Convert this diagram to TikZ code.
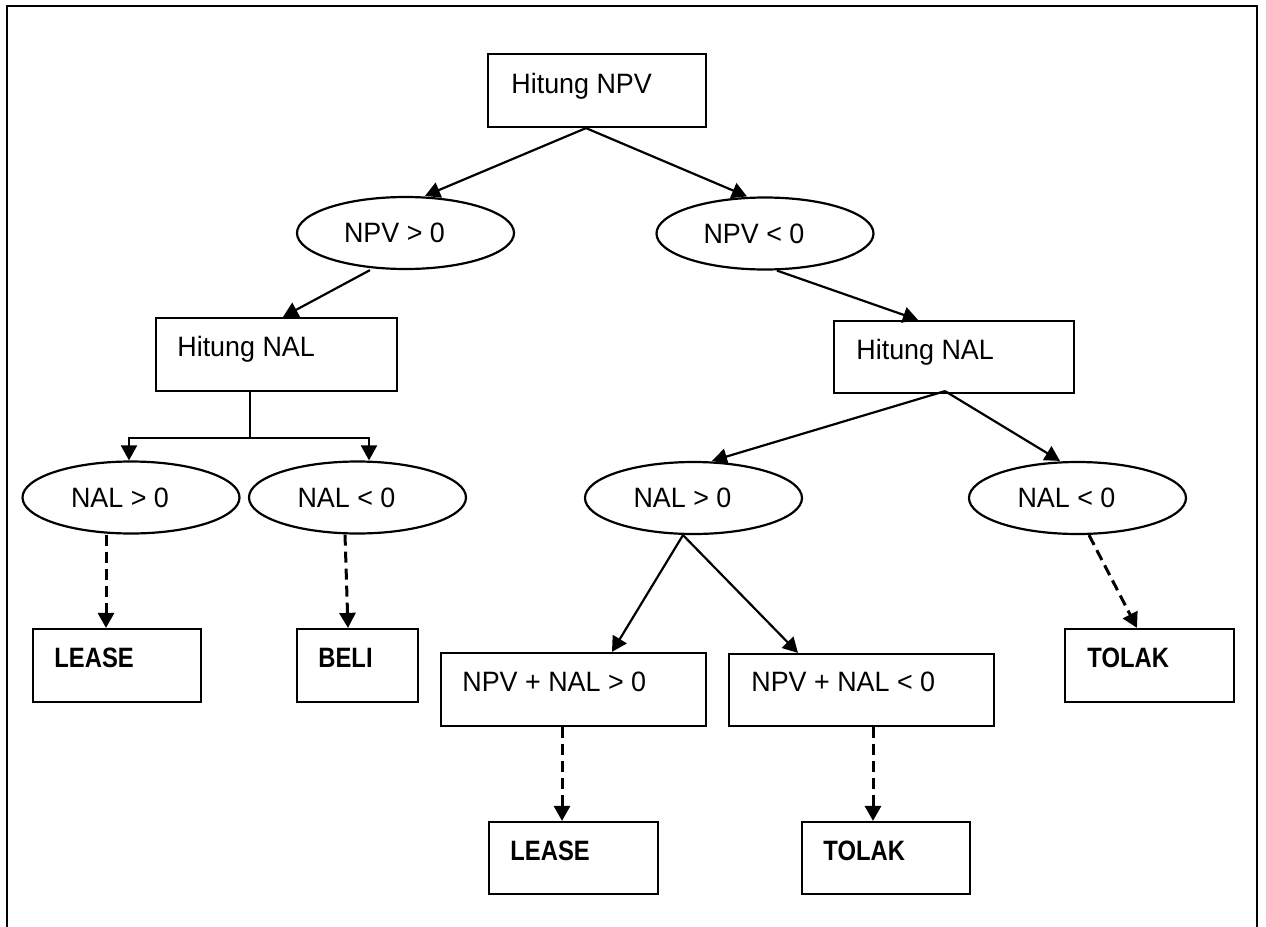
\documentclass[tikz,border=0pt]{standalone}
\usepackage{fontspec}
\setmainfont{Liberation Sans}[FakeStretch=0.96]
\newfontfamily\bcond{Liberation Sans}[FakeStretch=0.85]
\usetikzlibrary{arrows.meta,shapes.geometric}
\tikzset{
  boxst/.style={draw, line width=1.1pt, rectangle, inner sep=0pt},
  ellst/.style={draw, line width=1.1pt, ellipse, inner sep=0pt, minimum width=108.5pt, minimum height=36pt},
  txt/.style={inner sep=0pt, font=\fontsize{14}{16}\selectfont},
  btxt/.style={inner sep=0pt, font=\bcond\bfseries\fontsize{14}{16}\selectfont},
  arr/.style={line width=1.1pt, -{Triangle[length=7.5pt,width=8pt]}},
  darr/.style={arr, line width=1.5pt, dash pattern=on 5.5pt off 3pt},
}
\begin{document}
\begin{tikzpicture}[x=0.5pt,y=-0.5pt]
\useasboundingbox (0,0) rectangle (1266,927);
% outer frame (open at bottom)
\draw[line width=1.1pt] (7,927) -- (7,6) -- (1257,6) -- (1257,927);

% boxes
\node[boxst, minimum width=109pt, minimum height=36.5pt] (npv) at (597,90.5) {};
\node[txt, anchor=base west] (npvT) at (511,93) {Hitung NPV};

\node[boxst, minimum width=120.5pt, minimum height=36.5pt] (hl) at (276.5,354.5) {};
\node[txt, anchor=base west] (hlT) at (177,356) {Hitung NAL};

\node[boxst, minimum width=120pt, minimum height=36pt] (hr) at (954,357) {};
\node[txt, anchor=base west] (hrT) at (856,359) {Hitung NAL};

\node[boxst, minimum width=84pt, minimum height=36.5pt] (lease1) at (117,665.5) {};
\node[btxt, anchor=base west] (lease1T) at (54,667) {LEASE};

\node[boxst, minimum width=60.5pt, minimum height=36.5pt] (beli) at (357.5,665.5) {};
\node[btxt, anchor=base west] (beliT) at (318,667) {BELI};

\node[boxst, minimum width=132.5pt, minimum height=36.5pt] (b1) at (573.5,689.5) {};
\node[txt, anchor=base west] (b1T) at (462,691) {NPV + NAL > 0};

\node[boxst, minimum width=132.5pt, minimum height=36pt] (b2) at (861.5,690) {};
\node[txt, anchor=base west] (b2T) at (751,691) {NPV + NAL < 0};

\node[boxst, minimum width=84.5pt, minimum height=36.5pt] (tolak1) at (1149.5,665.5) {};
\node[btxt, anchor=base west] (tolak1T) at (1087,667) {TOLAK};

\node[boxst, minimum width=84.5pt, minimum height=36pt] (lease2) at (573.5,858) {};
\node[btxt, anchor=base west] (lease2T) at (510,860) {LEASE};

\node[boxst, minimum width=84pt, minimum height=36pt] (tolak2) at (886,858) {};
\node[btxt, anchor=base west] (tolak2T) at (823,860) {TOLAK};

% ellipses
\node[ellst] (e1) at (405.5,233) {};
\node[txt, anchor=base] (e1T) at (394.5,242.5) {NPV > 0};
\node[ellst] (e2) at (765,233.5) {};
\node[txt, anchor=base] (e2T) at (754,243) {NPV < 0};
\node[ellst] (e3) at (131,497.5) {};
\node[txt, anchor=base] (e3T) at (120,507) {NAL > 0};
\node[ellst] (e4) at (357.5,497.5) {};
\node[txt, anchor=base] (e4T) at (346.5,507) {NAL < 0};
\node[ellst] (e5) at (693.5,498) {};
\node[txt, anchor=base] (e5T) at (682.5,507) {NAL > 0};
\node[ellst] (e6) at (1077.5,498) {};
\node[txt, anchor=base] (e6T) at (1066.5,507) {NAL < 0};

% connectors
\draw[arr] ([xshift=-5.5pt]npv.south) -- ([xshift=9.75pt]e1.north);
\draw[arr] ([xshift=-5.5pt]npv.south) -- ([xshift=-9pt]e2.north);
\draw[arr] ([xshift=-17.75pt]e1.south) -- ([xshift=3.25pt]hl.north);
\draw[arr] ([xshift=6pt]e2.south) -- ([xshift=-18pt]hr.north);

\coordinate (hlj) at ([xshift=-13.25pt,yshift=-23pt]hl.south);
\draw[line width=1.1pt] ([xshift=-13.25pt]hl.south) -- (hlj);
\draw[arr] (hlj) -| ([xshift=-1pt]e3.north);
\draw[arr] (hlj) -| ([xshift=5.75pt]e4.north);

\draw[arr] ([xshift=-4.5pt,yshift=1.5pt]hr.south) -- ([xshift=9.25pt]e5.north);
\draw[arr] ([xshift=-4.5pt,yshift=1.5pt]hr.south) -- ([xshift=-8.75pt]e6.north);

\draw[arr] ([xshift=-5.25pt]e5.south) -- ([xshift=19.25pt]b1.north);
\draw[arr] ([xshift=-5.25pt]e5.south) -- ([xshift=-31.75pt]b2.north);

\draw[darr] ([xshift=-12.5pt]e3.south) -- ([xshift=-5.5pt]lease1.north);
\draw[darr] ([xshift=-6.25pt]e4.south) -- ([xshift=-4.75pt]beli.north);
\draw[darr] ([xshift=5.75pt]e6.south) -- ([xshift=-6.25pt]tolak1.north);
\draw[darr] ([xshift=-5.75pt]b1.south) -- ([xshift=-5.75pt]lease2.north);
\draw[darr] ([xshift=5.75pt]b2.south) -- ([xshift=-6.5pt]tolak2.north);
\end{tikzpicture}
\end{document}
